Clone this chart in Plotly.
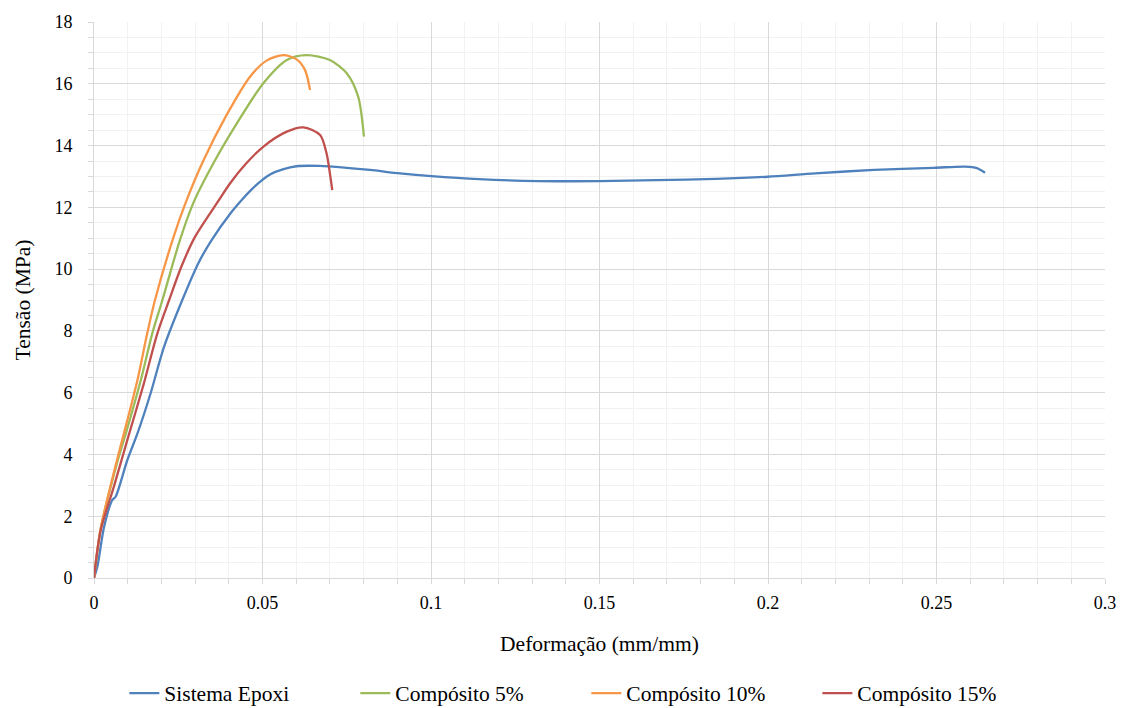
import plotly.graph_objects as go

# Sistema Epoxi
epoxi_x = [0, 0.001, 0.003, 0.0054, 0.0064, 0.0099, 0.0129, 0.0168, 0.0208, 0.0262, 0.0310,
           0.0349, 0.0408, 0.0435, 0.0465, 0.0495, 0.0525, 0.0560, 0.0601, 0.067, 0.075, 0.0819,
           0.0908, 0.1001, 0.1142, 0.1318, 0.150, 0.167, 0.1846, 0.1999, 0.214, 0.2315, 0.2491,
           0.2585, 0.2620, 0.2644]
epoxi_y = [0, 0.37, 1.66, 2.52, 2.63, 3.82, 4.68, 5.98, 7.49, 9.0, 10.2,
           10.94, 11.85, 12.2, 12.55, 12.85, 13.08, 13.23, 13.33, 13.34, 13.28, 13.21,
           13.1, 13.01, 12.91, 12.85, 12.85, 12.88, 12.92, 12.99, 13.10, 13.21, 13.28,
           13.32, 13.27, 13.12]

# Compósito 5%
c5_x = [0, 0.002, 0.0069, 0.0099, 0.0139, 0.0173, 0.0203, 0.0255, 0.0297, 0.0354, 0.0423,
        0.0502, 0.0572, 0.0631, 0.070, 0.075, 0.0784, 0.0801]
c5_y = [0, 1.6, 3.75, 4.85, 6.41, 7.92, 9.0, 10.94, 12.2, 13.42, 14.7,
        16.01, 16.77, 16.93, 16.77, 16.34, 15.58, 14.29]

# Compósito 10%
c10_x = [0, 0.002, 0.0069, 0.0099, 0.0129, 0.0158, 0.0181, 0.0235, 0.0272, 0.0324, 0.0394,
         0.0463, 0.0512, 0.0562, 0.0601, 0.0626, 0.0641]
c10_y = [0, 1.6, 3.85, 5.11, 6.41, 7.92, 9.0, 11.0, 12.15, 13.5, 15.0,
         16.23, 16.75, 16.93, 16.79, 16.45, 15.8]

# Compósito 15%
c15_x = [0, 0.002, 0.0059, 0.0099, 0.0148, 0.0188, 0.0223, 0.0260, 0.0300, 0.0371, 0.0404,
         0.0450, 0.0502, 0.0572, 0.0621, 0.0671, 0.0690, 0.0700, 0.0707]
c15_y = [0, 1.55, 2.96, 4.47, 6.3, 7.92, 9.0, 10.1, 11.05, 12.24, 12.78,
         13.4, 13.96, 14.45, 14.59, 14.34, 13.75, 13.1, 12.56]

series_names = ["Sistema Epoxi", "Compósito 5%", "Compósito 10%", "Compósito 15%"]
series_colors = ["#4F81BD", "#9BBB59", "#F79646", "#C0504D"]
series_data = [(epoxi_x, epoxi_y), (c5_x, c5_y), (c10_x, c10_y), (c15_x, c15_y)]

FONT = "Times New Roman, Liberation Serif, DejaVu Serif, serif"
FS_TICK = 18
FS_TITLE = 21.5

fig = go.Figure()
for name, color, (xs, ys) in zip(series_names, series_colors, series_data):
    fig.add_trace(go.Scatter(x=xs, y=ys, mode="lines", name=name,
                             line=dict(color=color, width=2.3, shape="spline", smoothing=0.8)))

fig.update_layout(
    width=1116, height=730,
    paper_bgcolor="white", plot_bgcolor="white",
    margin=dict(l=86, r=19, t=14, b=160),
    font=dict(family=FONT, size=FS_TICK, color="#000000"),
    showlegend=True,
    legend=dict(orientation="h", x=0.030, xanchor="left", y=-0.207, yanchor="middle",
                font=dict(family=FONT, size=FS_TITLE), entrywidth=186, entrywidthmode="pixels",
                tracegroupgap=0),
)
fig.update_xaxes(
    range=[0, 0.3], dtick=0.05, tick0=0, automargin=False,
    showgrid=True, gridcolor="#D9D9D9", gridwidth=1,
    showline=True, linecolor="#D9D9D9", linewidth=1,
    ticks="outside", ticklen=5, tickcolor="#D9D9D9",
    zeroline=False, ticklabelstandoff=3, ticklabeloverflow="allow",
    tickfont=dict(family=FONT, size=FS_TICK),
    minor=dict(dtick=0.01, showgrid=True, gridcolor="#F2F2F2", ticks="outside",
               ticklen=5, tickcolor="#D9D9D9"),
    title=dict(text="Deformação (mm/mm)", font=dict(family=FONT, size=FS_TITLE), standoff=24),
)
fig.update_yaxes(
    range=[0, 18], dtick=2, tick0=0, automargin=False,
    showgrid=True, gridcolor="#D9D9D9", gridwidth=1,
    showline=True, linecolor="#D9D9D9", linewidth=1,
    ticks="outside", ticklen=5, tickcolor="#D9D9D9",
    zeroline=False, ticklabelstandoff=12,
    tickfont=dict(family=FONT, size=FS_TICK),
    minor=dict(dtick=0.5, showgrid=True, gridcolor="#F2F2F2", ticks="outside",
               ticklen=5, tickcolor="#D9D9D9"),
    title=dict(text="Tensão (MPa)", font=dict(family=FONT, size=FS_TITLE), standoff=17),
)

fig.write_html("out.html")
